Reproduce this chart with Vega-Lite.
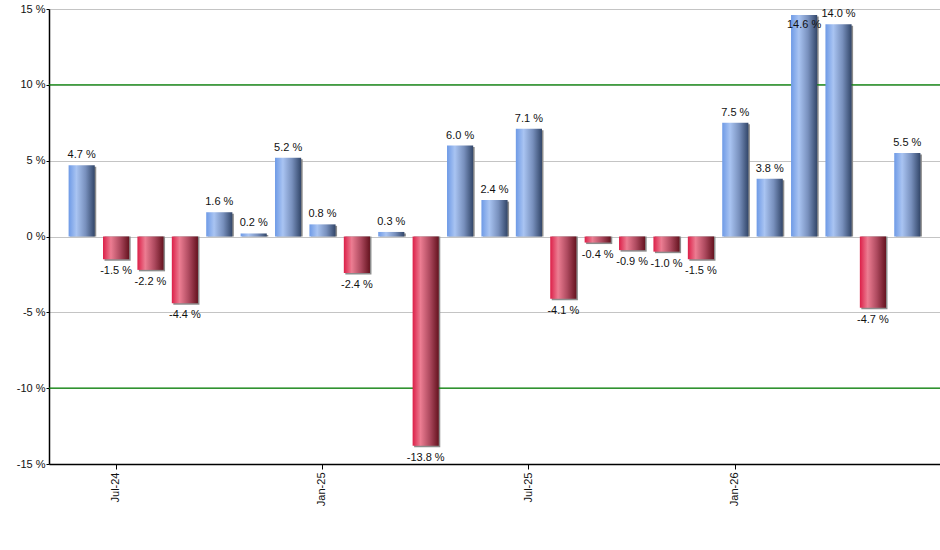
{
  "$schema": "https://vega.github.io/schema/vega-lite/v6.json",
  "width": 891,
  "height": 455,
  "autosize": "none",
  "padding": {"left": 49, "top": 9, "right": 0, "bottom": 86},
  "background": "white",
  "config": {
    "view": {"stroke": null},
    "font": "Liberation Sans",
    "axis": {"labelFont": "Liberation Sans", "labelFontSize": 11, "labelColor": "#111"}
  },
  "datasets": {
    "returns": [
      {"month": "Jun-24", "value": 4.7},
      {"month": "Jul-24", "value": -1.5},
      {"month": "Aug-24", "value": -2.2},
      {"month": "Sep-24", "value": -4.4},
      {"month": "Oct-24", "value": 1.6},
      {"month": "Nov-24", "value": 0.2},
      {"month": "Dec-24", "value": 5.2},
      {"month": "Jan-25", "value": 0.8},
      {"month": "Feb-25", "value": -2.4},
      {"month": "Mar-25", "value": 0.3},
      {"month": "Apr-25", "value": -13.8},
      {"month": "May-25", "value": 6.0},
      {"month": "Jun-25", "value": 2.4},
      {"month": "Jul-25", "value": 7.1},
      {"month": "Aug-25", "value": -4.1},
      {"month": "Sep-25", "value": -0.4},
      {"month": "Oct-25", "value": -0.9},
      {"month": "Nov-25", "value": -1.0},
      {"month": "Dec-25", "value": -1.5},
      {"month": "Jan-26", "value": 7.5},
      {"month": "Feb-26", "value": 3.8},
      {"month": "Mar-26", "value": 14.6},
      {"month": "Apr-26", "value": 14.0},
      {"month": "May-26", "value": -4.7},
      {"month": "Jun-26", "value": 5.5}
    ],
    "limits": [{"level": 10}, {"level": -10}]
  },
  "layer": [
    {
      "data": {"name": "returns"},
      "mark": {"type": "bar", "color": "#8c8c8c", "xOffset": 1.5, "yOffset": 1.5},
      "encoding": {
        "x": {
          "field": "month",
          "type": "ordinal",
          "sort": null,
          "scale": {"paddingInner": 0.24, "paddingOuter": 0.57},
          "axis": {
            "title": null,
            "values": ["Jul-24", "Jan-25", "Jul-25", "Jan-26"],
            "labelAngle": 270,
            "labelAlign": "right",
            "labelBaseline": "middle",
            "labelPadding": 3,
            "tickSize": 5,
            "tickColor": "#000",
            "domainColor": "#000",
            "domainWidth": 1.5,
            "grid": false
          }
        },
        "y": {
          "field": "value",
          "type": "quantitative",
          "scale": {"domain": [-15, 15], "nice": false, "zero": false},
          "axis": {
            "title": null,
            "values": [-15, -10, -5, 0, 5, 10, 15],
            "labelExpr": "datum.value + ' %'",
            "labelPadding": 1,
            "tickSize": 3,
            "tickColor": "#000",
            "domainColor": "#000",
            "domainWidth": 1.5,
            "grid": true,
            "gridColor": "#c4c4c4",
            "gridWidth": 1
          }
        },
        "y2": {"datum": 0}
      }
    },
    {
      "data": {"name": "limits"},
      "mark": {"type": "rule", "color": "#008000", "strokeWidth": 1.2},
      "encoding": {"y": {"field": "level", "type": "quantitative"}}
    },
    {
      "data": {"name": "returns"},
      "mark": {"type": "bar"},
      "encoding": {
        "x": {"field": "month", "type": "ordinal", "sort": null},
        "y": {"field": "value", "type": "quantitative"},
        "y2": {"datum": 0},
        "color": {
          "condition": {
            "test": "datum.value < 0",
            "value": {
              "gradient": "linear", "x1": 0, "y1": 0, "x2": 1, "y2": 0,
              "stops": [
                {"offset": 0, "color": "#dc1f48"},
                {"offset": 0.3, "color": "#ec7d92"},
                {"offset": 0.65, "color": "#ae4a5f"},
                {"offset": 1, "color": "#65131f"}
              ]
            }
          },
          "value": {
            "gradient": "linear", "x1": 0, "y1": 0, "x2": 1, "y2": 0,
            "stops": [
              {"offset": 0, "color": "#6e9ae6"},
              {"offset": 0.3, "color": "#a9c4f2"},
              {"offset": 0.65, "color": "#7890bd"},
              {"offset": 1, "color": "#324669"}
            ]
          }
        }
      }
    },
    {
      "data": {"name": "returns"},
      "transform": [
        {"filter": "datum.value >= 0 && datum.value < 14.5"},
        {"calculate": "replace(format(datum.value, '.1f'), '\u2212', '-') + ' %'", "as": "label"}
      ],
      "mark": {"type": "text", "baseline": "alphabetic", "dy": -7, "fontSize": 11, "color": "#111"},
      "encoding": {
        "x": {"field": "month", "type": "ordinal", "sort": null},
        "y": {"field": "value", "type": "quantitative"},
        "text": {"field": "label"}
      }
    },
    {
      "data": {"name": "returns"},
      "transform": [
        {"filter": "datum.value >= 14.5"},
        {"calculate": "replace(format(datum.value, '.1f'), '\u2212', '-') + ' %'", "as": "label"}
      ],
      "mark": {"type": "text", "baseline": "alphabetic", "dy": 13, "fontSize": 11, "color": "#111"},
      "encoding": {
        "x": {"field": "month", "type": "ordinal", "sort": null},
        "y": {"field": "value", "type": "quantitative"},
        "text": {"field": "label"}
      }
    },
    {
      "data": {"name": "returns"},
      "transform": [
        {"filter": "datum.value < 0"},
        {"calculate": "replace(format(datum.value, '.1f'), '\u2212', '-') + ' %'", "as": "label"}
      ],
      "mark": {"type": "text", "baseline": "top", "dy": 6, "fontSize": 11, "color": "#111"},
      "encoding": {
        "x": {"field": "month", "type": "ordinal", "sort": null},
        "y": {"field": "value", "type": "quantitative"},
        "text": {"field": "label"}
      }
    }
  ]
}
